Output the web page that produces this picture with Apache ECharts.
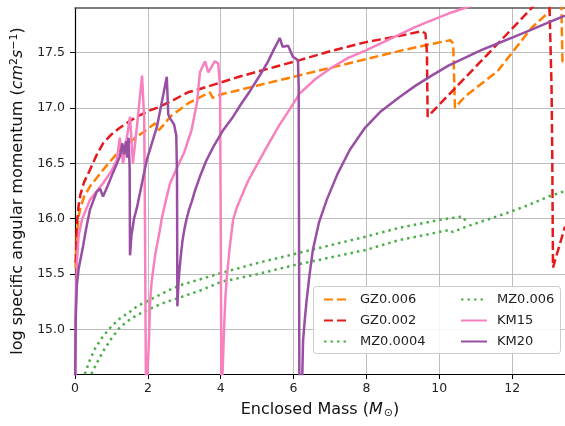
<!DOCTYPE html>
<html>
<head>
<meta charset="utf-8">
<script src="https://cdn.jsdelivr.net/npm/echarts@6/dist/echarts.min.js"></script>
<style>
  html, body { margin: 0; padding: 0; background: #ffffff; }
  #chart { width: 565px; height: 426px; }
</style>
</head>
<body>
<div id="chart"></div>
<script>
// Specific angular momentum profiles vs enclosed mass for several progenitor models
const xTicks = [0, 2, 4, 6, 8, 10, 12];
const yTicks = [15.0, 15.5, 16.0, 16.5, 17.0, 17.5];

const gz0006 = [
  [0.02, 15.55], [0.05, 15.85], [0.1, 16.02], [0.15, 16.1], [0.25, 16.2], [0.41, 16.29],
  [0.6, 16.37], [0.77, 16.44], [1.0, 16.53], [1.23, 16.62], [1.5, 16.69], [1.7, 16.74],
  [2.0, 16.81], [2.2, 16.86], [2.3, 16.8], [2.45, 16.85], [2.61, 16.92], [2.9, 16.99],
  [3.1, 17.04], [3.4, 17.09], [3.7, 17.14], [3.78, 17.09], [4.0, 17.12], [5.0, 17.2],
  [6.0, 17.28], [7.0, 17.36], [8.0, 17.44], [9.0, 17.52], [10.0, 17.59], [10.3, 17.61],
  [10.38, 17.58], [10.43, 17.0], [10.7, 17.1], [11.6, 17.33], [12.53, 17.72], [13.03, 17.87],
  [13.08, 18.1], [13.34, 18.1], [13.38, 17.42], [13.45, 17.4]
];

const gz0002 = [
  [0.02, 15.6], [0.05, 15.95], [0.1, 16.12], [0.15, 16.22], [0.25, 16.33], [0.41, 16.44],
  [0.6, 16.58], [0.77, 16.68], [1.0, 16.76], [1.23, 16.82], [1.5, 16.88], [1.7, 16.92],
  [2.0, 16.97], [2.25, 17.0], [2.7, 17.07], [3.1, 17.14], [3.43, 17.17], [4.5, 17.28],
  [5.5, 17.37], [6.17, 17.43], [7.0, 17.51], [7.96, 17.59], [8.92, 17.65], [9.52, 17.69],
  [9.62, 17.67], [9.66, 17.5], [9.68, 16.92], [10.97, 17.36], [12.48, 17.88], [12.7, 17.96],
  [13.0, 18.1], [13.03, 17.85], [13.08, 17.2], [13.1, 16.6], [13.12, 15.56], [13.45, 15.93]
];

const mz00004 = [
  [0.27, 14.6], [0.4, 14.72], [0.55, 14.83], [0.77, 14.94], [1.0, 15.03], [1.23, 15.1],
  [1.5, 15.16], [1.7, 15.21], [2.0, 15.26], [2.3, 15.31], [2.61, 15.36], [2.88, 15.4],
  [3.5, 15.46], [4.0, 15.51], [5.0, 15.6], [6.0, 15.68], [7.0, 15.76], [8.0, 15.84],
  [8.92, 15.92], [10.01, 15.99], [10.64, 16.02], [10.75, 15.97]
];

const mz0006 = [
  [0.45, 14.6], [0.6, 14.7], [0.8, 14.82], [1.0, 14.92], [1.23, 15.02], [1.5, 15.09],
  [1.7, 15.13], [2.14, 15.2], [2.5, 15.25], [2.88, 15.29], [3.5, 15.36], [4.0, 15.43],
  [5.0, 15.5], [6.0, 15.58], [7.0, 15.65], [8.0, 15.72], [8.92, 15.81], [9.7, 15.86],
  [10.29, 15.9], [10.37, 15.88], [10.75, 15.93], [11.3, 15.99], [11.93, 16.06],
  [12.5, 16.13], [13.0, 16.2], [13.45, 16.25]
];

const km15 = [
  [0.005, 14.5], [0.02, 15.2], [0.05, 15.6], [0.1, 15.85], [0.2, 16.0], [0.41, 16.17],
  [0.6, 16.25], [0.77, 16.32], [1.0, 16.43], [1.15, 16.53], [1.23, 16.73], [1.32, 16.5],
  [1.41, 16.7], [1.51, 16.92], [1.59, 16.5], [1.7, 16.83], [1.84, 17.29], [1.9, 16.9],
  [1.92, 16.0], [1.95, 14.3], [2.0, 14.3], [2.03, 14.9], [2.06, 15.24], [2.1, 15.42],
  [2.15, 15.55], [2.2, 15.67], [2.25, 15.76], [2.32, 15.88], [2.38, 16.0], [2.45, 16.1],
  [2.52, 16.2], [2.61, 16.32], [2.8, 16.46], [3.0, 16.6], [3.2, 16.8], [3.35, 17.05],
  [3.43, 17.32], [3.57, 17.42], [3.66, 17.32], [3.84, 17.42], [3.93, 17.4], [3.98, 17.2],
  [4.0, 16.0], [4.02, 14.3], [4.06, 14.3], [4.09, 15.0], [4.13, 15.3], [4.17, 15.48],
  [4.25, 15.75], [4.34, 15.99], [4.43, 16.09], [4.53, 16.17], [4.75, 16.34], [5.0, 16.49],
  [5.27, 16.65], [5.6, 16.84], [5.9, 16.99], [6.17, 17.13], [6.6, 17.26], [7.08, 17.37],
  [7.5, 17.45], [8.0, 17.52], [8.45, 17.59], [8.9, 17.66], [9.35, 17.73], [9.8, 17.79],
  [10.25, 17.85], [10.7, 17.9], [11.5, 18.0]
];

const km20 = [
  [0.003, 14.5], [0.02, 15.1], [0.05, 15.4], [0.1, 15.55], [0.22, 15.75], [0.3, 15.9],
  [0.41, 16.08], [0.59, 16.24], [0.69, 16.27], [0.77, 16.2], [0.9, 16.3], [1.05, 16.42],
  [1.23, 16.56], [1.3, 16.68], [1.34, 16.58], [1.4, 16.7], [1.43, 16.55], [1.47, 16.73],
  [1.5, 16.45], [1.51, 15.67], [1.55, 15.85], [1.62, 16.0], [1.7, 16.1], [1.97, 16.53],
  [2.25, 16.83], [2.52, 17.28], [2.56, 16.94], [2.62, 16.9], [2.72, 16.85], [2.78, 16.75],
  [2.8, 16.4], [2.81, 15.21], [2.84, 15.42], [2.87, 15.55], [2.91, 15.68], [2.95, 15.8],
  [3.0, 15.9], [3.05, 15.98], [3.12, 16.07], [3.2, 16.15], [3.3, 16.26], [3.43, 16.38],
  [3.6, 16.52], [3.8, 16.65], [4.05, 16.79], [4.34, 16.92], [4.55, 17.03], [4.8, 17.15],
  [5.05, 17.28], [5.27, 17.4], [5.45, 17.52], [5.62, 17.63], [5.7, 17.55], [5.85, 17.56],
  [5.98, 17.46], [6.12, 17.43], [6.14, 17.2], [6.16, 14.3], [6.22, 14.3], [6.26, 14.9],
  [6.31, 15.1], [6.36, 15.27], [6.44, 15.5], [6.53, 15.72], [6.7, 15.97], [6.91, 16.17],
  [7.2, 16.4], [7.54, 16.62], [7.96, 16.82], [8.4, 16.97], [8.92, 17.1], [9.35, 17.2],
  [9.79, 17.29], [10.25, 17.38], [10.7, 17.45], [11.15, 17.52], [11.6, 17.58],
  [12.05, 17.64], [12.5, 17.7], [13.0, 17.77], [13.45, 17.83]
];

const FONT = 'DejaVu Sans';
const LW = 2.5;

function lineSeries(name, data, color, type) {
  return {
    name: name,
    type: 'line',
    data: data,
    symbol: 'none',
    showSymbol: false,
    smooth: false,
    clip: true,
    lineStyle: { color: color, width: LW, type: type, cap: 'butt' },
    itemStyle: { color: color },
    emphasis: { disabled: true }
  };
}

const chart = echarts.init(document.getElementById('chart'), null, { renderer: 'canvas' });

const legendBase = {
  orient: 'vertical',
  top: 288,
  itemWidth: 26,
  itemHeight: 12,
  itemGap: 8,
  selectedMode: false,
  itemStyle: { color: 'transparent', borderColor: 'transparent', borderWidth: 0 },
  textStyle: { fontFamily: FONT, fontSize: 13, color: '#222', padding: [0, 0, 0, 5] }
};

chart.setOption({
  animation: false,
  backgroundColor: '#ffffff',
  grid: { left: 75, right: 0, top: 8, bottom: 52, containLabel: false },
  graphic: [{
    type: 'rect',
    left: 313, top: 286,
    shape: { width: 247, height: 67, r: 3 },
    style: { fill: 'rgba(255,255,255,0.85)', stroke: '#cccccc', lineWidth: 1 },
    z: 50
  }],
  legend: [
    Object.assign({}, legendBase, { left: 318, data: ['GZ0.006', 'GZ0.002', 'MZ0.0004'], z: 60 }),
    Object.assign({}, legendBase, { left: 455, data: ['MZ0.006', 'KM15', 'KM20'], z: 60 })
  ],
  xAxis: [{
    type: 'value',
    min: 0, max: 13.45,
    name: 'Enclosed Mass ({m|M}{s|⊙})',
    nameLocation: 'middle',
    nameGap: 27,
    nameTextStyle: {
      fontFamily: FONT, fontSize: 16, color: '#111',
      rich: {
        m: { fontFamily: FONT, fontSize: 16, fontStyle: 'italic', color: '#111' },
        s: { fontFamily: FONT, fontSize: 11, color: '#111', padding: [7, 0, 0, 1] }
      }
    },
    axisLine: { show: true, onZero: false, lineStyle: { color: '#000', width: 1.2 } },
    axisTick: { show: true, length: 5, customValues: xTicks, lineStyle: { color: '#000' } },
    axisLabel: { customValues: xTicks, margin: 8, fontFamily: FONT, fontSize: 12.5, color: '#222' },
    splitLine: { show: true, lineStyle: { color: '#bdbdbd', width: 1 } }
  }, {
    type: 'value',
    position: 'top',
    min: 0, max: 13.45,
    axisLine: { show: true, onZero: false, lineStyle: { color: '#555', width: 1.5 } },
    axisTick: { show: false },
    axisLabel: { show: false },
    splitLine: { show: false }
  }],
  yAxis: {
    type: 'value',
    min: 14.6, max: 17.9,
    name: 'log specific angular momentum ({i|cm}{p|2}{i|s}{p|−1})',
    nameLocation: 'middle',
    nameGap: 47,
    nameTextStyle: {
      fontFamily: FONT, fontSize: 16, color: '#111',
      rich: {
        i: { fontFamily: FONT, fontSize: 16, fontStyle: 'italic', color: '#111' },
        p: { fontFamily: FONT, fontSize: 11, color: '#111', padding: [0, 0, 8, 0] }
      }
    },
    axisLine: { show: true, onZero: false, lineStyle: { color: '#000', width: 1.2 } },
    axisTick: { show: true, length: 5, customValues: yTicks, lineStyle: { color: '#000' } },
    axisLabel: {
      customValues: yTicks, margin: 10, fontFamily: FONT, fontSize: 12.5, color: '#222',
      formatter: v => v.toFixed(1)
    },
    splitLine: { show: true, lineStyle: { color: '#bdbdbd', width: 1 } }
  },
  series: [
    lineSeries('GZ0.006', gz0006, '#ff7f00', [9, 4]),
    lineSeries('GZ0.002', gz0002, '#e41a1c', [9, 4]),
    lineSeries('MZ0.0004', mz00004, '#4daf4a', [2.5, 4]),
    lineSeries('MZ0.006', mz0006, '#4daf4a', [2.5, 4]),
    lineSeries('KM15', km15, '#f781bf', 'solid'),
    lineSeries('KM20', km20, '#984ea3', 'solid')
  ]
});
</script>
</body>
</html>
